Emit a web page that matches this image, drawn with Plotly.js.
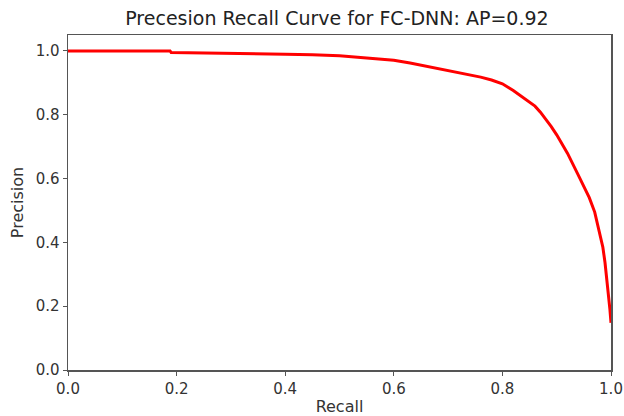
<!DOCTYPE html>
<html>
<head>
<meta charset="utf-8">
<script src="https://cdn.plot.ly/plotly-3.0.1.min.js"></script>
<style>html,body{margin:0;padding:0;background:#fff;}#chart{width:624px;height:416px;}</style>
</head>
<body>
<div id="chart"></div>
<script>
const recall = [0, 0.05, 0.10, 0.15, 0.188, 0.19, 0.25, 0.30, 0.35, 0.40, 0.45, 0.50, 0.55, 0.60, 0.63, 0.66, 0.69, 0.72, 0.74, 0.76, 0.78, 0.80, 0.82, 0.84, 0.86, 0.87, 0.88, 0.89, 0.90, 0.92, 0.94, 0.96, 0.97, 0.98, 0.985, 0.989, 0.995, 0.998, 1.0];
const precision = [1.0, 1.0, 1.0, 1.0, 1.0, 0.995, 0.994, 0.992, 0.991, 0.990, 0.988, 0.985, 0.978, 0.971, 0.962, 0.952, 0.942, 0.932, 0.926, 0.918, 0.909, 0.897, 0.876, 0.851, 0.827, 0.808, 0.787, 0.763, 0.737, 0.679, 0.610, 0.540, 0.495, 0.425, 0.385, 0.336, 0.245, 0.19, 0.148];
const xTicks = [0, 0.2, 0.4, 0.6, 0.8, 1.0];
const yTicks = [0, 0.2, 0.4, 0.6, 0.8, 1.0];
const titleText = "Precesion Recall Curve for FC-DNN: AP=0.92";

const axisCommon = {
  showgrid: false, zeroline: false, showline: true, mirror: true,
  linecolor: "#555", linewidth: 1.5, ticks: "outside", ticklen: 4,
  tickcolor: "#555", tickwidth: 1, tickformat: ".1f",
  tickfont: {family: "DejaVu Sans", size: 15, color: "#333"}
};
Plotly.newPlot("chart", [{
  x: recall, y: precision, type: "scatter", mode: "lines",
  line: {color: "#ff0000", width: 3}
}], {
  width: 624, height: 416,
  margin: {l: 68, r: 13, t: 35, b: 46},
  paper_bgcolor: "#fff", plot_bgcolor: "#fff",
  font: {family: "DejaVu Sans", size: 15, color: "#222"},
  showlegend: false,
  title: {text: titleText, x: 0.54, xanchor: "center", y: 0.957, yanchor: "middle",
          font: {family: "DejaVu Sans", size: 19, color: "#222"}},
  xaxis: Object.assign({}, axisCommon, {range: [0, 1], tickvals: xTicks,
    title: {text: "Recall", standoff: 6, font: {family: "DejaVu Sans", size: 16, color: "#333"}}}),
  yaxis: Object.assign({}, axisCommon, {range: [0, 1.05], tickvals: yTicks,
    title: {text: "Precision", standoff: 8, font: {family: "DejaVu Sans", size: 16, color: "#333"}}})
}, {displayModeBar: false, staticPlot: true});
</script>
</body>
</html>
